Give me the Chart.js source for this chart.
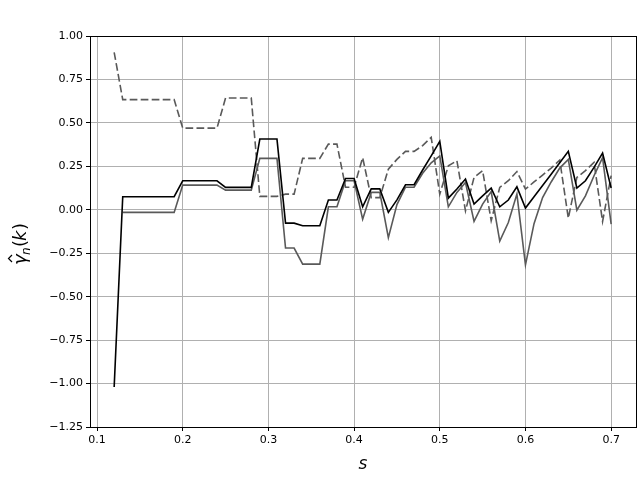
<!doctype html>
<html lang="en">
<head>
<meta charset="utf-8">
<title>gamma hat n (k) vs s</title>
<script src="https://cdn.jsdelivr.net/npm/chart.js@4"></script>
<style>
  html, body { margin: 0; padding: 0; background: #fff; }
  #wrap { width: 640px; height: 480px; }
</style>
</head>
<body>
<div id="wrap"><canvas id="myChart" width="640" height="480"></canvas></div>
<script>
// s values, 0.12 .. 0.70
var sVals = [0.12,0.13,0.14,0.15,0.16,0.17,0.18,0.19,0.20,0.21,0.22,0.23,0.24,0.25,0.26,0.27,0.28,0.29,0.30,
  0.31,0.32,0.33,0.34,0.35,0.36,0.37,0.38,0.39,0.40,0.41,0.42,0.43,0.44,0.45,0.46,0.47,0.48,0.49,0.50,
  0.51,0.52,0.53,0.54,0.55,0.56,0.57,0.58,0.59,0.60,0.61,0.62,0.63,0.64,0.65,0.66,0.67,0.68,0.69,0.70];

// black solid
var blackVals = [-1.02,0.075,0.075,0.075,0.075,0.075,0.075,0.075,0.167,0.167,0.167,0.167,0.167,0.129,0.129,0.129,0.129,0.407,0.407,
  0.407,-0.077,-0.077,-0.092,-0.092,-0.092,0.056,0.056,0.18,0.18,0.017,0.12,0.12,-0.015,0.057,0.144,0.144,0.229,0.31,0.394,
  0.067,0.12,0.177,0.033,0.08,0.125,0.017,0.056,0.132,0.01,0.075,0.14,0.205,0.27,0.336,0.125,0.167,0.244,0.326,0.125];

// gray solid
var grayVals = [null,-0.015,-0.015,-0.015,-0.015,-0.015,-0.015,-0.015,0.142,0.142,0.142,0.142,0.142,0.113,0.113,0.113,0.113,0.296,0.296,
  0.296,-0.22,-0.22,-0.313,-0.313,-0.313,0.017,0.017,0.167,0.167,-0.054,0.1,0.1,-0.16,0.03,0.13,0.13,0.21,0.27,0.31,
  0.017,0.1,0.157,-0.067,0.033,0.105,-0.18,-0.073,0.09,-0.317,-0.08,0.07,0.16,0.24,0.29,-0.002,0.08,0.196,0.30,-0.083];

// gray dashed
var dashVals = [0.906,0.634,0.634,0.634,0.634,0.634,0.634,0.634,0.47,0.47,0.47,0.47,0.47,0.643,0.643,0.643,0.643,0.077,0.077,
  0.077,0.09,0.09,0.296,0.296,0.296,0.378,0.378,0.13,0.13,0.30,0.07,0.07,0.234,0.29,0.336,0.336,0.369,0.417,0.09,
  0.253,0.282,-0.006,0.186,0.225,-0.063,0.129,0.167,0.22,0.119,0.16,0.2,0.24,0.286,-0.048,0.186,0.225,0.272,-0.067,0.196];

var xTicks = [0.1, 0.2, 0.3, 0.4, 0.5, 0.6, 0.7];

function pts(vals) {
  var out = [];
  for (var i = 0; i < sVals.length; i++) {
    if (vals[i] !== null) out.push({x: sVals[i], y: vals[i]});
  }
  return out;
}

// box around plot area + axis titles
var extras = {
  id: 'extras',
  afterDraw: function(chart) {
    var c = chart.ctx, a = chart.chartArea;
    c.save();
    c.strokeStyle = '#000';
    c.lineWidth = 1;
    c.strokeRect(Math.round(a.left) + 0.5, Math.round(a.top) + 0.5,
      Math.round(a.right - a.left), Math.round(a.bottom - a.top));

    c.fillStyle = '#000';
    c.textAlign = 'center';
    c.textBaseline = 'middle';
    c.font = 'italic 17px "DejaVu Sans"';
    c.fillText('s', (a.left + a.right) / 2, 465);

    // y label: gamma hat _n (k)
    c.translate(21, 231);
    c.rotate(-Math.PI / 2);
    c.textAlign = 'left';
    c.textBaseline = 'alphabetic';
    var x0 = -34;
    c.font = 'italic 18px "DejaVu Sans"';
    c.fillText('\u03b3', x0, 5);
    // hat over gamma
    c.beginPath();
    c.moveTo(x0 + 3, -9);
    c.lineTo(x0 + 6.5, -12.5);
    c.lineTo(x0 + 10, -9);
    c.lineWidth = 1.2;
    c.stroke();
    var w = 10;
    c.font = 'italic 12px "DejaVu Sans"';
    c.fillText('n', x0 + w, 9);
    c.font = '18px "DejaVu Sans"';
    c.fillText('(', x0 + w + 8, 5);
    c.font = 'italic 18px "DejaVu Sans"';
    c.fillText('k', x0 + w + 14, 5);
    c.font = '18px "DejaVu Sans"';
    c.fillText(')', x0 + w + 25, 5);
    c.restore();
  }
};

var ctx = document.getElementById('myChart');
var myChart = new Chart(ctx, {
  type: 'line',
  data: {
    datasets: [
      { data: pts(blackVals), borderColor: '#000000', borderWidth: 1.6, pointRadius: 0, fill: false, tension: 0 },
      { data: pts(grayVals), borderColor: '#595959', borderWidth: 1.6, pointRadius: 0, fill: false, tension: 0 },
      { data: pts(dashVals), borderColor: '#595959', borderWidth: 1.6, borderDash: [7.7, 3.3], pointRadius: 0, fill: false, tension: 0 }
    ]
  },
  options: {
    responsive: false,
    animation: false,
    layout: { padding: { left: 0, right: 4, top: 36, bottom: 0 } },
    plugins: { legend: { display: false }, tooltip: { enabled: false } },
    scales: {
      x: {
        type: 'linear',
        min: 0.0918,
        max: 0.729,
        afterBuildTicks: function(axis) {
          axis.ticks = xTicks.map(function(v) { return {value: v}; });
        },
        afterFit: function(axis) { axis.height = 53; },
        grid: { color: '#b0b0b0', lineWidth: 1, tickColor: '#000', tickLength: 4, drawOnChartArea: true },
        border: { display: false },
        ticks: {
          color: '#000',
          font: { family: 'DejaVu Sans', size: 11 },
          padding: 3,
          maxRotation: 0,
          callback: function(v) { return v.toFixed(1); }
        }
      },
      y: {
        min: -1.25,
        max: 1.0,
        afterFit: function(axis) { axis.width = 90; },
        grid: { color: '#b0b0b0', lineWidth: 1, tickColor: '#000', tickLength: 4 },
        border: { display: false },
        ticks: {
          stepSize: 0.25,
          color: '#000',
          font: { family: 'DejaVu Sans', size: 11 },
          padding: 3,
          callback: function(v) { return v.toFixed(2).replace('-', '\u2212'); }
        }
      }
    }
  },
  plugins: [extras]
});
</script>
</body>
</html>
